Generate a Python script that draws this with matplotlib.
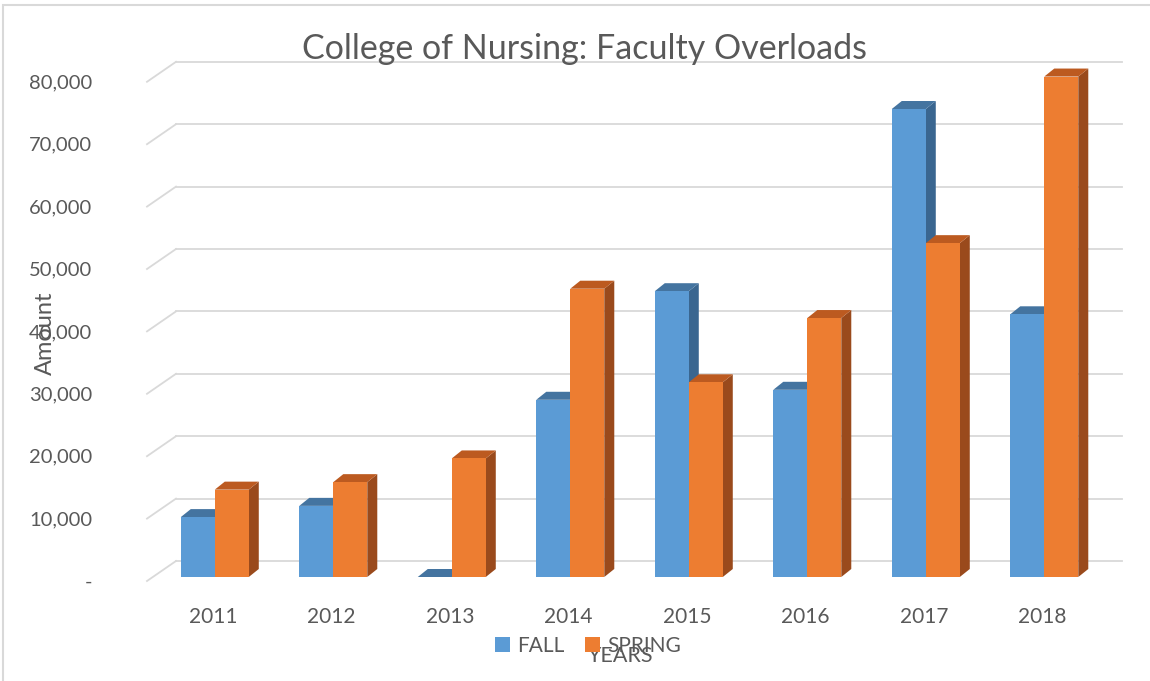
import matplotlib
matplotlib.use("Agg")
import matplotlib.pyplot as plt
from matplotlib.patches import Polygon, Patch, Rectangle

plt.rcParams["font.family"] = ["Lato", "DejaVu Sans"]

years = ["2011", "2012", "2013", "2014", "2015", "2016", "2017", "2018"]
fall = [9600, 11400, 0, 28400, 45800, 30000, 75000, 42100]
spring = [14000, 15200, 19000, 46200, 31200, 41500, 53500, 80200]
y_ticks = [0, 10000, 20000, 30000, 40000, 50000, 60000, 70000, 80000]

W, H = 1150, 681
PX_CAT = 118.5      # pixels per category
PX_VAL = 6.24 / 1000  # pixels per unit of value
X0_PX = 213         # pixel x of first category
Y0_PX = 577         # pixel y of value 0 (bar bottoms)

def px_to_x(px):
    return (px - X0_PX) / PX_CAT

def px_to_v(py):
    return (Y0_PX - py) / PX_VAL

fig = plt.figure(figsize=(W / 100, H / 100), dpi=100)
ax_l, ax_r, ax_t, ax_b = 130, 1140, 30, 600
ax = fig.add_axes([ax_l / W, (H - ax_b) / H, (ax_r - ax_l) / W, (ax_b - ax_t) / H])
ax.set_xlim(px_to_x(ax_l), px_to_x(ax_r))
ax.set_ylim(px_to_v(ax_b), px_to_v(ax_t))
for s in ax.spines.values():
    s.set_visible(False)

grid_c = "#D9D9D9"
# 3d offsets
wall_dx, wall_dy = 29 / PX_CAT, 16 / PX_VAL
front_dv = -4 / PX_VAL
x_front = px_to_x(147)
x_right = px_to_x(1122)
for v in y_ticks:
    ax.plot([x_front, x_front + wall_dx], [v + front_dv, v + wall_dy], color=grid_c, lw=1.3, zorder=1)
    ax.plot([x_front + wall_dx, x_right], [v + wall_dy, v + wall_dy], color=grid_c, lw=1.3, zorder=1)

bw = 34 / PX_CAT
ddx, ddy = 10 / PX_CAT, 8 / PX_VAL
fall_cols = ("#5B9BD5", "#4474A0", "#3A6690")
spring_cols = ("#ED7D31", "#BC5A20", "#9A4A1C")

def bar3d(x0, h, cols, z):
    front, top, side = cols
    x1 = x0 + bw
    ax.add_patch(Polygon([(x1, 0), (x1 + ddx, ddy), (x1 + ddx, h + ddy), (x1, h)],
                         closed=True, fc=side, ec="none", zorder=z))
    ax.add_patch(Polygon([(x0, h), (x1, h), (x1 + ddx, h + ddy), (x0 + ddx, h + ddy)],
                         closed=True, fc=top, ec="none", zorder=z))
    if h > 0:
        ax.add_patch(Rectangle((x0, 0), bw, h, fc=front, ec="none", zorder=z))

for i in range(len(years)):
    c = i + 0.015
    bar3d(c - bw, fall[i], fall_cols, 2 + i)
    bar3d(c, spring[i], spring_cols, 2.5 + i)

txt_c = "#595959"
for v in y_ticks:
    lab = "-" if v == 0 else f"{v:,}"
    ax.text(px_to_x(92), v - 800, lab, ha="right", va="center", fontsize=14.5, color=txt_c)

ax.set_xticks(range(len(years)), years)
ax.tick_params(axis="x", length=0, pad=5, labelsize=15, labelcolor=txt_c)
ax.set_yticks([])

fig.text(585 / W, 1 - 49 / H, "College of Nursing: Faculty Overloads", ha="center", va="center",
         fontsize=24.5, color=txt_c)
fig.text(45 / W, 1 - 333 / H, "Amount", rotation=90, ha="center", va="center", fontsize=17, color=txt_c)
fig.text(620 / W, 1 - 656 / H, "YEARS", ha="center", va="center", fontsize=15.5, color=txt_c)

handles = [Patch(fc=fall_cols[0], label="FALL"), Patch(fc=spring_cols[0], label="SPRING")]
leg = fig.legend(handles=handles, loc="center", bbox_to_anchor=(588 / W, 1 - 646 / H), ncol=2,
                 frameon=False, fontsize=15, handlelength=0.7, handleheight=0.7,
                 handletextpad=0.35, columnspacing=1.0)
for t in leg.get_texts():
    t.set_color(txt_c)

# chart border
fig.add_artist(Rectangle((3 / W, -0.1), 1.2, 1 - 5 / H + 0.1, transform=fig.transFigure,
                         fill=False, ec="#D9D9D9", lw=1.5))

fig.savefig("out.png", dpi=100)
